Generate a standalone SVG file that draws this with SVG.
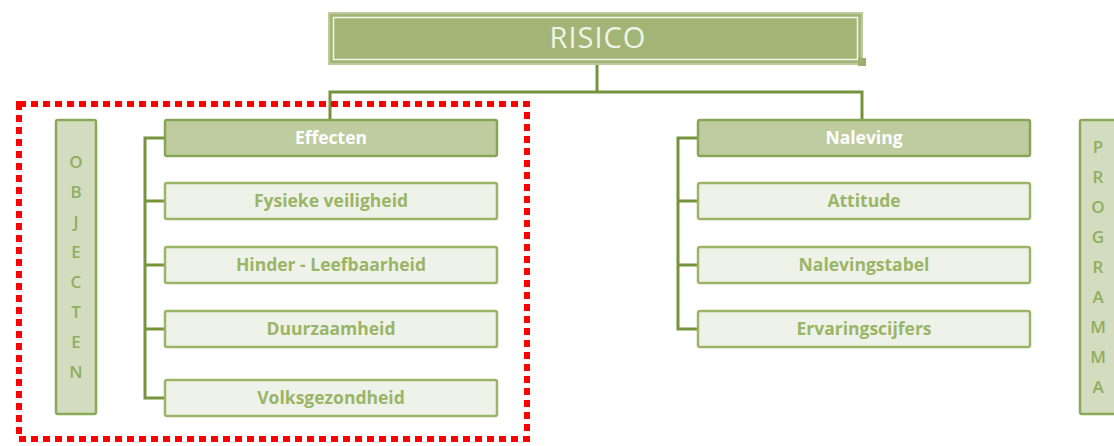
<svg xmlns="http://www.w3.org/2000/svg" width="1114" height="446" viewBox="0 0 1114 446">
<style>
.conn{fill:none;stroke:#77933c;stroke-width:3}
.head{fill:#bfcca0;stroke:#86a556;stroke-width:2.5}
.child{fill:#eff2e8;stroke:#9ab567;stroke-width:2.5}
.side{fill:#d3dcbf;stroke:#8aa85a;stroke-width:2.5}
.ht{font-family:"Open Sans",Lato,sans-serif;font-weight:bold;font-size:17.5px;fill:#ffffff;text-anchor:middle}
.ct{font-family:"Open Sans",Lato,sans-serif;font-weight:bold;font-size:17.5px;fill:#9ab567;text-anchor:middle}
.st{font-family:"Open Sans",Lato,sans-serif;font-weight:600;font-size:17px;fill:#8fae60;text-anchor:middle}
</style>
<rect width="1114" height="446" fill="#ffffff"/>
<g id="connectors">
<path class="conn" d="M597 64V92M330 120V92H862V120"/>
<path class="conn" d="M165 138H145V398H165M145 201H165M145 265H165M145 329H165"/>
<path class="conn" d="M698 138H678V329H698M678 201H698M678 265H698"/>
</g>
<g id="risico">
<rect x="329" y="13" width="533" height="51" fill="#a2b576" stroke="#bccb9e" stroke-width="2"/>
<rect x="333.5" y="17.5" width="524" height="42" fill="none" stroke="#f2f5ea" stroke-width="1.5"/>
<rect x="858" y="58" width="8" height="8" fill="#9cb070"/>
<text x="598" y="48" font-family="'Open Sans',Lato,sans-serif" font-size="29" letter-spacing="1" fill="#f0f3e8" text-anchor="middle">RISICO</text>
</g>
<g id="objecten">
<rect class="side" x="56" y="120" width="40" height="294" rx="2"/>
<text class="st" x="76" y="168">O</text>
<text class="st" x="76" y="198">B</text>
<text class="st" x="76" y="228">J</text>
<text class="st" x="76" y="258">E</text>
<text class="st" x="76" y="288">C</text>
<text class="st" x="76" y="318">T</text>
<text class="st" x="76" y="348">E</text>
<text class="st" x="76" y="378">N</text>
</g>
<g id="programma">
<rect class="side" x="1080" y="120" width="40" height="294" rx="2"/>
<text class="st" x="1098" y="153">P</text>
<text class="st" x="1098" y="183">R</text>
<text class="st" x="1098" y="213">O</text>
<text class="st" x="1098" y="243">G</text>
<text class="st" x="1098" y="273">R</text>
<text class="st" x="1098" y="303">A</text>
<text class="st" x="1098" y="333">M</text>
<text class="st" x="1098" y="363">M</text>
<text class="st" x="1098" y="393">A</text>
</g>
<g id="effecten">
<rect class="head" x="165" y="120" width="332" height="36" rx="2"/>
<text class="ht" x="331" y="144">Effecten</text>
</g>
<g id="fysieke-veiligheid">
<rect class="child" x="165" y="183" width="332" height="36" rx="2"/>
<text class="ct" x="331" y="207">Fysieke veiligheid</text>
</g>
<g id="hinder-leefbaarheid">
<rect class="child" x="165" y="247" width="332" height="36" rx="2"/>
<text class="ct" x="331" y="271">Hinder - Leefbaarheid</text>
</g>
<g id="duurzaamheid">
<rect class="child" x="165" y="311" width="332" height="36" rx="2"/>
<text class="ct" x="331" y="335">Duurzaamheid</text>
</g>
<g id="volksgezondheid">
<rect class="child" x="165" y="380" width="332" height="36" rx="2"/>
<text class="ct" x="331" y="404">Volksgezondheid</text>
</g>
<g id="naleving">
<rect class="head" x="698" y="120" width="332" height="36" rx="2"/>
<text class="ht" x="864" y="144">Naleving</text>
</g>
<g id="attitude">
<rect class="child" x="698" y="183" width="332" height="36" rx="2"/>
<text class="ct" x="864" y="207">Attitude</text>
</g>
<g id="nalevingstabel">
<rect class="child" x="698" y="247" width="332" height="36" rx="2"/>
<text class="ct" x="864" y="271">Nalevingstabel</text>
</g>
<g id="ervaringscijfers">
<rect class="child" x="698" y="311" width="332" height="36" rx="2"/>
<text class="ct" x="864" y="335">Ervaringscijfers</text>
</g>
<g id="selection">
<rect x="19" y="104" width="508" height="335" fill="none" stroke="#ff0000" stroke-width="6" stroke-dasharray="7 5"/>
</g>
</svg>
